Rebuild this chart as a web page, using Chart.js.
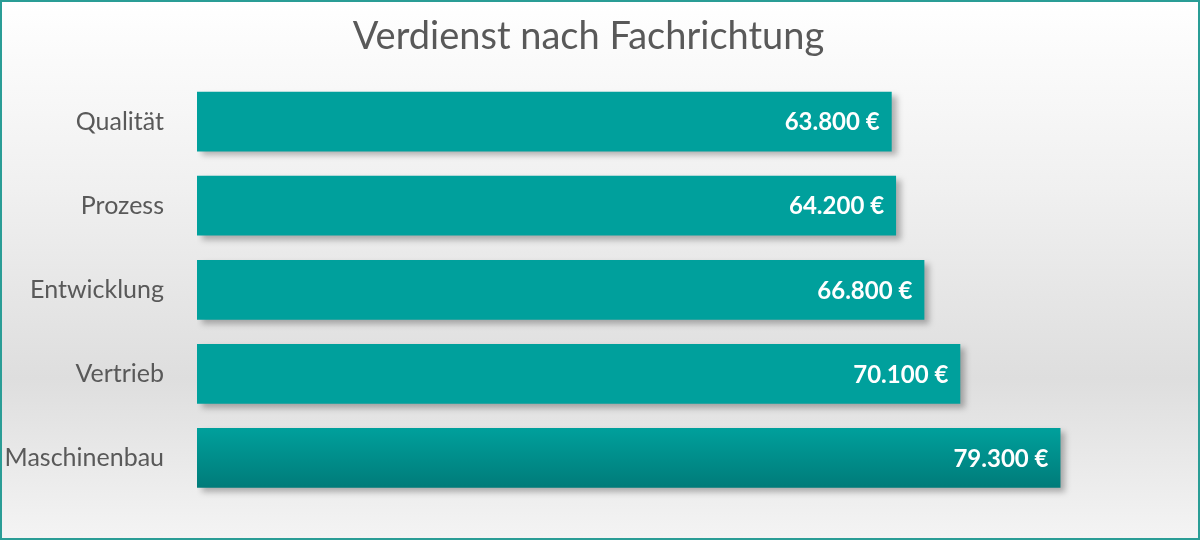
<!DOCTYPE html>
<html>
<head>
<meta charset="utf-8">
<script src="https://cdn.jsdelivr.net/npm/chart.js@4"></script>
<style>
  html, body { margin: 0; padding: 0; }
  body {
    width: 1200px; height: 540px; box-sizing: border-box;
    border: 2px solid #2a9d96;
    background: linear-gradient(to bottom, #ffffff 0%, #f0f0f0 35%, #dedede 70%, #f4f4f4 100%);
  }
  #wrap { position: absolute; left: 0; top: 0; width: 1200px; height: 540px; }
</style>
</head>
<body>
<div id="wrap"><canvas id="canvas1" width="1200" height="540"></canvas></div>
<script>
// chart data
var categories = ['Qualität', 'Prozess', 'Entwicklung', 'Vertrieb', 'Maschinenbau'];
var salaries = [63800, 64200, 66800, 70100, 79300];

function euro(v){
    return v.toLocaleString('de-DE') + ' €';
}

// vertical gradient per bar + soft shadow
var barStyle = {
    id: 'barStyle',
    beforeDatasetDraw: function(chart){
        var c = chart.ctx;
        chart.getDatasetMeta(0).data.forEach(function(el){
            var g = c.createLinearGradient(0, el.y - el.height/2, 0, el.y + el.height/2);
            g.addColorStop(0, '#00a09c');
            g.addColorStop(1, '#007b79');
            el.options.backgroundColor = g;
        });
        c.save();
        c.shadowColor = 'rgba(0,0,0,0.28)';
        c.shadowOffsetX = 5;
        c.shadowOffsetY = 4;
        c.shadowBlur = 6;
    },
    afterDatasetDraw: function(chart){
        chart.ctx.restore();
    }
};

// value labels inside bar end
var valueLabels = {
    id: 'valueLabels',
    afterDatasetsDraw: function(chart){
        var c = chart.ctx;
        c.save();
        c.fillStyle = '#ffffff';
        c.font = 'bold 24px Lato, "Open Sans", sans-serif';
        c.textAlign = 'right';
        c.textBaseline = 'middle';
        chart.getDatasetMeta(0).data.forEach(function(el, i){
            c.fillText(euro(salaries[i]), el.x - 12, el.y + 1);
        });
        c.restore();
    }
};

var ctx = document.getElementById('canvas1');
var barGraph = new Chart(ctx, {
    type: 'bar',
    data: {
        labels: categories,
        datasets: [{
            data: salaries,
            backgroundColor: '#009090',
            borderWidth: 0,
            categoryPercentage: 1,
            barPercentage: 0.71
        }]
    },
    options: {
        indexAxis: 'y',
        responsive: false,
        animation: false,
        layout: { padding: { left: 0, right: 23, top: 0, bottom: 22 } },
        plugins: {
            legend: { display: false },
            tooltip: { enabled: false },
            title: {
                display: true,
                text: 'Verdienst nach Fachrichtung',
                color: '#595959',
                font: { family: 'Lato, "Open Sans", sans-serif', size: 38, weight: 'normal' },
                padding: { top: 14, bottom: 20 }
            }
        },
        scales: {
            x: { display: false, min: 0, max: 90000 },
            y: {
                grid: { display: false },
                border: { display: false },
                ticks: {
                    color: '#595959',
                    padding: 25,
                    font: { family: 'Lato, "Open Sans", sans-serif', size: 25 }
                },
                afterFit: function(scale){ scale.width = 197; }
            }
        }
    },
    plugins: [barStyle, valueLabels]
});
</script>
</body>
</html>
